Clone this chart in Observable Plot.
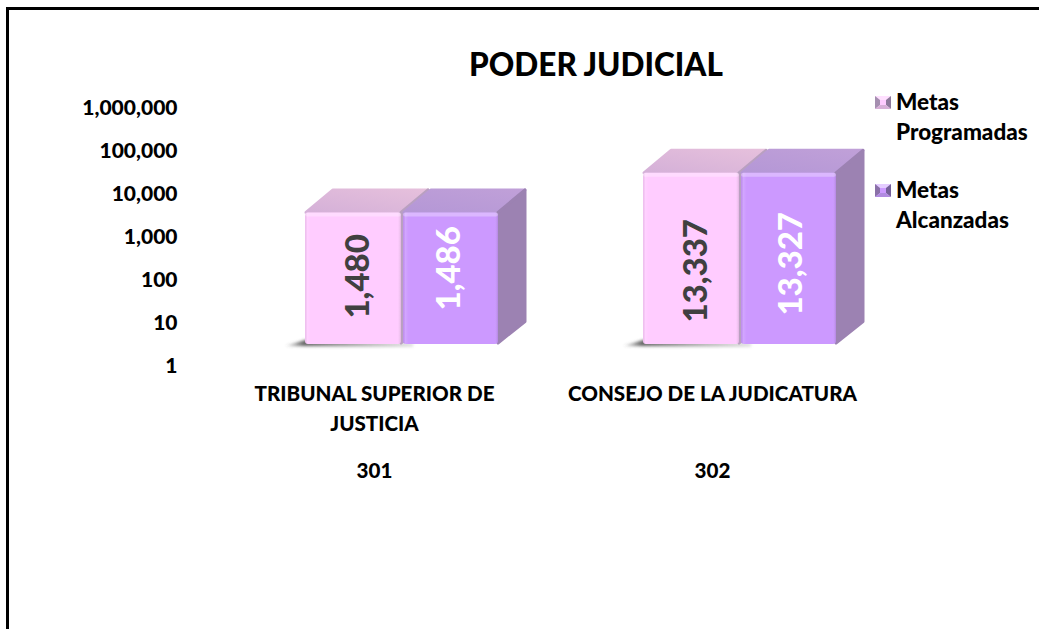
<!DOCTYPE html>
<html><head><meta charset="utf-8">
<script src="https://cdn.jsdelivr.net/npm/d3@7"></script>
<script src="https://cdn.jsdelivr.net/npm/@observablehq/plot@0.6"></script>
<style>
html,body{margin:0;padding:0;background:#fff;overflow:hidden}
#page{position:relative;width:1039px;height:629px;font-family:Lato,sans-serif;font-weight:900;color:#000}
#frame{position:absolute;left:6px;top:7px;right:0;bottom:-10px;border:3px solid #000;border-right:0;box-sizing:border-box}
#title{position:absolute;left:0;width:1192px;text-align:center;top:44px;font-size:31.5px;line-height:40px}
#chart{position:absolute;left:0;top:0}
.lg{position:absolute;left:875px;font-size:22.5px;line-height:30px;display:flex}
.lg svg{margin:9px 5px 0 0;flex:none}
</style></head><body>
<div id="page"><div id="frame"></div><div id="title">PODER JUDICIAL</div><div id="chart"></div>
<div class="lg" style="top:87px"><svg width="16" height="13" viewBox="0 0 16 13"><rect width="16" height="13" fill="#ffe0ff"/><path d="M0 0L5 4V9L0 13Z" fill="#a58fb0"/><path d="M16 0L11 4V9L16 13Z" fill="#8f7a9c"/><path d="M0 13L5 9H11L16 13Z" fill="#d8b0d8"/><rect x="5" y="4" width="6" height="5" fill="#ffccff"/></svg><span>Metas<br>Programadas</span></div>
<div class="lg" style="top:175px"><svg width="16" height="13" viewBox="0 0 16 13"><rect width="16" height="13" fill="#e4ccff"/><path d="M0 0L5 4V9L0 13Z" fill="#8a70a8"/><path d="M16 0L11 4V9L16 13Z" fill="#75609a"/><path d="M0 13L5 9H11L16 13Z" fill="#b08ae0"/><rect x="5" y="4" width="6" height="5" fill="#cc99ff"/></svg><span>Metas<br>Alcanzadas</span></div>
</div>
<script>
const codes = ["301", "302"];
const names = ["TRIBUNAL SUPERIOR DE\nJUSTICIA", "CONSEJO DE LA JUDICATURA"];
const series = ["Metas Programadas", "Metas Alcanzadas"];
const programadas = [1480, 13337];
const alcanzadas = [1486, 13327];
const yTicks = [1, 10, 100, 1000, 10000, 100000, 1000000];

const rows = codes.flatMap((code, i) => [
  {code, serie: series[0], value: programadas[i]},
  {code, serie: series[1], value: alcanzadas[i]}
]);

const look = {
  [series[0]]: {front: "#ffccff", top: "url(#topA)", side: "#b9a0c0", text: "#404040"},
  [series[1]]: {front: "#cc99ff", top: "url(#topB)", side: "#9c82b2", text: "#ffffff"}
};
const dpx = 28, dpy = -24, floorShift = -22, squash = 0.965;

function block(index, scales, values) {
  const g = d3.create("svg:g");
  const base = scales.y(1);
  for (const i of index) {
    const first = rows[i].serie === series[0];
    const x0 = values.x[i] + dpx + (first ? 0 : 1);
    const x1 = x0 + scales.x.bandwidth() - (first ? 1 : 2);
    const y1 = base + floorShift;
    const y0 = y1 + (scales.y(rows[i].value) - base) * squash;
    const c = look[rows[i].serie];
    if (first) {
      g.append("path").attr("fill", "url(#shade)").attr("filter", "url(#soft)")
        .attr("d", `M${x0 - 20},${y1 + 2}L${x0},${y1 - 4}L${x1 + 12},${y1 - 1}L${x1 + 12},${y1 + 3}Z`);
    }
    g.append("path").attr("fill", c.top).attr("stroke", c.top).attr("stroke-linejoin", "round").attr("stroke-width", 3)
      .attr("d", `M${x0 + 1},${y0}L${x0 + dpx},${y0 + dpy + 1.5}L${x1 + dpx - 1},${y0 + dpy + 1.5}L${x1 - 1},${y0}Z`);
    g.append("path").attr("fill", c.side).attr("stroke", c.side).attr("stroke-linejoin", "round").attr("stroke-width", 3)
      .attr("d", `M${x1},${y0}L${x1 + dpx - 1},${y0 + dpy + 1.5}L${x1 + dpx - 1},${y1 + dpy + 1.5}L${x1},${y1 - 1}Z`);
    g.append("rect").attr("x", x0).attr("y", y0).attr("width", x1 - x0).attr("height", y1 - y0)
      .attr("rx", 3).attr("fill", c.front);
    g.append("rect").attr("x", x0).attr("y", y0).attr("width", x1 - x0).attr("height", y1 - y0)
      .attr("rx", 3).attr("fill", "url(#bevel)");
    g.append("rect").attr("x", x0).attr("y", y0).attr("width", x1 - x0).attr("height", 4)
      .attr("rx", 2).attr("fill", "#fff").attr("opacity", 0.3);
  }
  return g.node();
}

const labelDy = [-22, -30, -7, -14];
const labelDx = [32, 26, 32, 30];
const font = {fontFamily: "Lato, sans-serif", fontWeight: 900};

const chart = Plot.plot({
  width: 1039, height: 629,
  marginTop: 108, marginBottom: 263, marginLeft: 205, marginRight: 158,
  style: {background: "transparent", overflow: "visible"},
  fx: {domain: codes, padding: 0, label: null},
  x: {domain: series, paddingInner: 0, paddingOuter: 0.742, label: null, axis: null},
  y: {type: "log", domain: [1, 1000000], label: null},
  marks: [
    () => {
      const s = d3.create("svg:defs");
      const add = (id, a, b) => {
        const l = s.append("linearGradient").attr("id", id).attr("x1", 0).attr("x2", 1).attr("y1", 1).attr("y2", 0);
        l.append("stop").attr("offset", 0).attr("stop-color", a);
        l.append("stop").attr("offset", 1).attr("stop-color", b);
      };
      add("topA", "#d4b0d8", "#e6c0dc");
      add("topB", "#b497d6", "#c0a0d8");
      const b = s.append("linearGradient").attr("id", "bevel");
      b.append("stop").attr("offset", 0).attr("stop-color", "#000").attr("stop-opacity", 0.07);
      b.append("stop").attr("offset", 0.025).attr("stop-color", "#fff").attr("stop-opacity", 0.12);
      b.append("stop").attr("offset", 0.06).attr("stop-color", "#fff").attr("stop-opacity", 0);
      b.append("stop").attr("offset", 0.96).attr("stop-color", "#fff").attr("stop-opacity", 0);
      b.append("stop").attr("offset", 1).attr("stop-color", "#000").attr("stop-opacity", 0.12);
      const h = s.append("linearGradient").attr("id", "shade");
      h.append("stop").attr("offset", 0).attr("stop-color", "#555").attr("stop-opacity", 0.1);
      h.append("stop").attr("offset", 0.15).attr("stop-color", "#555").attr("stop-opacity", 0.9);
      h.append("stop").attr("offset", 1).attr("stop-color", "#999").attr("stop-opacity", 0.3);
      s.append("filter").attr("id", "soft").attr("x", "-20%").attr("width", "140%").attr("y", "-200%").attr("height", "500%")
        .append("feGaussianBlur").attr("stdDeviation", 1.5);
      return s.node();
    },
    Plot.axisY({ticks: yTicks, tickFormat: d3.format(","), tickSize: 0, tickPadding: 28, label: null, fontSize: 21, ...font}),
    Plot.axisFx({anchor: "bottom", label: null, tickSize: 0, tickPadding: 13, lineHeight: 1.45, fontSize: 20.6, lineAnchor: "top",
      tickFormat: d => names[codes.indexOf(d)], ...font}),
    Plot.axisFx({anchor: "bottom", label: null, tickSize: 0, tickPadding: 97, fontSize: 20.6, lineAnchor: "top", ...font}),
    Plot.barY(rows, {fx: "code", x: "serie", y1: () => 1, y2: "value", render: block}),
    ...rows.map((r, i) => Plot.text([r], {
      fx: "code", x: "serie", y: d => Math.sqrt(d.value),
      text: d => d3.format(",")(d.value), rotate: -90,
      fill: look[r.serie].text, fontSize: 33, dx: labelDx[i], dy: labelDy[i], ...font
    }))
  ]
});
document.getElementById("chart").append(chart);
</script></body></html>
